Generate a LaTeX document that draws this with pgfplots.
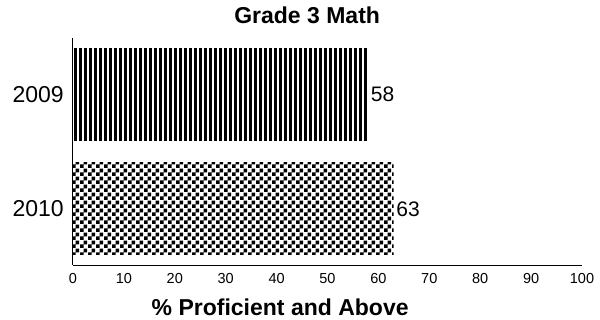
\documentclass[border=0pt]{standalone}
\usepackage{fontspec}
\setmainfont{Liberation Sans}
\usepackage{pgfplots}
\pgfplotsset{compat=1.18}
\usetikzlibrary{patterns}
\pgfdeclarepatternformonly{bigchecker}{\pgfpointorigin}{\pgfqpoint{8pt}{8pt}}{\pgfqpoint{8pt}{8pt}}{%
  \pgfpathrectangle{\pgfqpoint{0pt}{0pt}}{\pgfqpoint{4.1pt}{4.1pt}}%
  \pgfpathrectangle{\pgfqpoint{4pt}{4pt}}{\pgfqpoint{4.1pt}{4.1pt}}%
  \pgfusepath{fill}}
\pgfdeclarepatternformonly{densevlines}{\pgfpointorigin}{\pgfqpoint{4.6pt}{100pt}}{\pgfqpoint{4.6pt}{100pt}}{%
  \pgfpathrectangle{\pgfqpoint{0pt}{-0.5pt}}{\pgfqpoint{3.1pt}{101pt}}%
  \pgfusepath{fill}}
\begin{document}
\begin{tikzpicture}
\begin{axis}[
  at={(73pt,54pt)}, anchor=south west,
  scale only axis, width=509pt, height=227pt,
  xbar, bar width=92pt, bar shift=0pt,
  xmin=0, xmax=100, ymin=-0.49, ymax=1.49,
  axis x line*=bottom, axis y line*=left,
  axis line style={line width=1pt, -},
  xtick={0,10,...,100},
  ytick={0,1}, yticklabels={2010,2009},
  major tick length=0pt,
  /pgf/number format/assume math mode=true,
  xticklabel style={font=\fontsize{14.5}{14.5}\selectfont, inner sep=0pt, yshift=-8pt},
  yticklabel style={font=\fontsize{23}{23}\selectfont, inner sep=0pt, xshift=-9pt},
  title={Grade 3 Math},
  title style={font=\bfseries\fontsize{23}{23}\selectfont, at={(axis description cs:0.46,1)}, anchor=center, yshift=17pt},
  xlabel={\% Proficient and Above},
  xlabel style={font=\bfseries\fontsize{23}{23}\selectfont, at={(axis description cs:0.407,0)}, anchor=center, yshift=-42pt},
  nodes near coords,
  nodes near coords style={font=\fontsize{21}{21}\selectfont, anchor=west, inner sep=2.5pt},
  point meta=x,
]
\addplot[draw=none, pattern=densevlines, pattern color=black] coordinates {(58,1)};
\addplot[draw=none, pattern=bigchecker, pattern color=black] coordinates {(63,0)};
\end{axis}
\pgfresetboundingbox
\path[use as bounding box] (0,0) rectangle (600pt,319pt);
\end{tikzpicture}
\end{document}
